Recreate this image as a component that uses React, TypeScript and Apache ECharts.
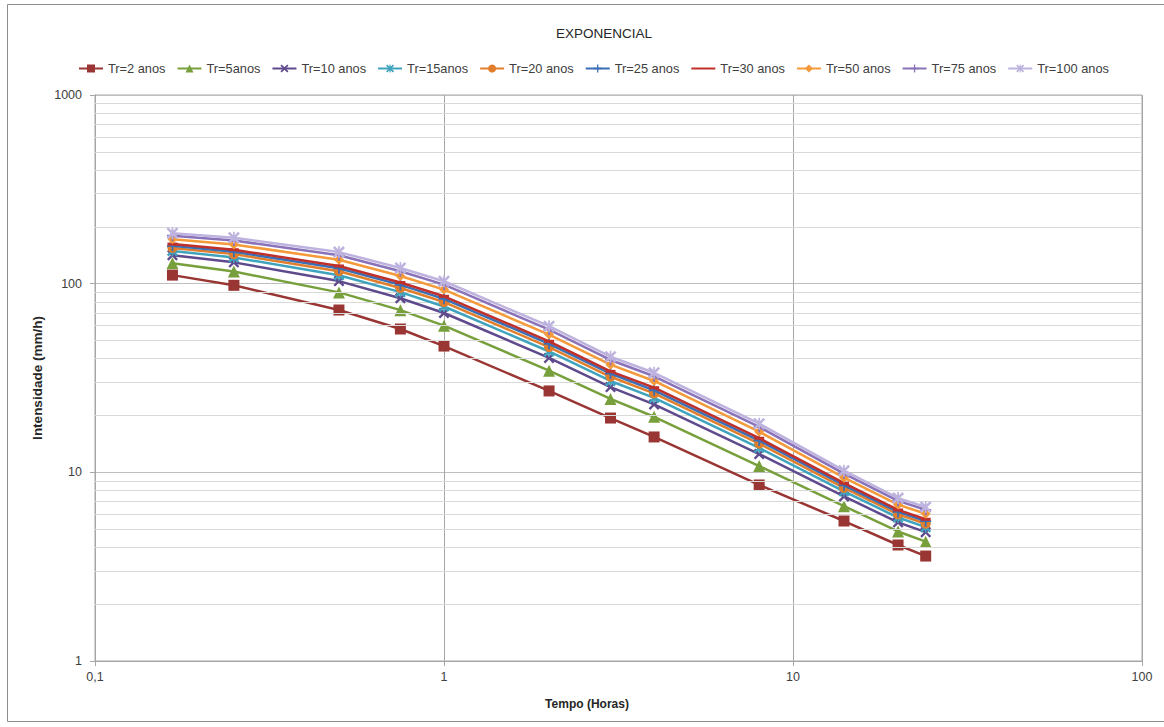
import React, { useEffect, useRef } from "react";
import * as echarts from "echarts";

const durations = [0.1667, 0.25, 0.5, 0.75, 1, 2, 3, 4, 8, 14, 20, 24];
const seriesNames = [
  "Tr=2 anos", "Tr=5anos", "Tr=10 anos", "Tr=15anos", "Tr=20 anos",
  "Tr=25 anos", "Tr=30 anos", "Tr=50 anos", "Tr=75 anos", "Tr=100 anos",
];
const tr2 = [111, 98, 72.5, 57.5, 46.7, 27.0, 19.4, 15.4, 8.57, 5.52, 4.12, 3.6];
const tr5 = [128.3, 116.0, 89.9, 72.4, 59.9, 34.6, 24.5, 19.7, 10.8, 6.62, 4.86, 4.29];
const tr10 = [141.5, 129.7, 103.2, 83.7, 69.9, 40.4, 28.3, 22.9, 12.5, 7.45, 5.43, 4.82];
const tr15 = [149.1, 137.7, 110.9, 90.2, 75.7, 43.7, 30.5, 24.8, 13.48, 7.93, 5.76, 5.12];
const tr20 = [154.6, 143.4, 116.4, 94.9, 79.9, 46.1, 32.1, 26.2, 14.18, 8.28, 5.99, 5.34];
const tr25 = [158.8, 147.7, 120.6, 98.5, 83.1, 48.0, 33.4, 27.2, 14.73, 8.54, 6.17, 5.51];
const tr30 = [162.2, 151.3, 124.1, 101.4, 85.7, 49.5, 34.3, 28.1, 15.16, 8.76, 6.32, 5.64];
const tr50 = [171.9, 161.4, 133.8, 109.8, 93.0, 53.7, 37.2, 30.5, 16.41, 9.37, 6.74, 6.03];
const tr75 = [179.5, 169.3, 141.5, 116.3, 98.8, 57.1, 39.4, 32.3, 17.39, 9.85, 7.06, 6.33];
const tr100 = [185, 175, 147, 121, 103, 59.5, 41, 33.7, 18.1, 10.2, 7.3, 6.55];
const allValues = [tr2, tr5, tr10, tr15, tr20, tr25, tr30, tr50, tr75, tr100];
const minorGridValues = [2, 3, 4, 5, 6, 7, 8, 9, 20, 30, 40, 50, 60, 70, 80, 90, 200, 300, 400, 500, 600, 700, 800, 900];

const colors = ["#993533", "#77A03C", "#5E4A8C", "#3FA3BD", "#E07E2C", "#3A6EB5", "#C0302B", "#F59A3A", "#8A72B8", "#BDB3DE"];

const X_SYM = "path://M0,1.5 L1.5,0 L5,3.5 L8.5,0 L10,1.5 L6.5,5 L10,8.5 L8.5,10 L5,6.5 L1.5,10 L0,8.5 L3.5,5 Z";
const PLUS_SYM = "path://M4.2,0 H5.8 V4.2 H10 V5.8 H5.8 V10 H4.2 V5.8 H0 V4.2 H4.2 Z";
const STAR_SYM = "path://M0,1.5 L1.5,0 L5,3.5 L8.5,0 L10,1.5 L6.5,5 L10,8.5 L8.5,10 L5,6.5 L1.5,10 L0,8.5 L3.5,5 Z M4.3,0 H5.7 V10 H4.3 Z";
const DASH_SYM = "path://M0,4 H10 V6 H0 Z";
const symbols = ["rect", "triangle", X_SYM, STAR_SYM, "circle", PLUS_SYM, DASH_SYM, "diamond", PLUS_SYM, STAR_SYM];
const symbolSizes: any[] = [11, 12, 11, 11, 10, 11, [10, 3], 10, 11, 12];

const FONT = "'Liberation Sans', Arial, sans-serif";

export default function App() {
  const ref = useRef<HTMLDivElement>(null);
  useEffect(() => {
    document.body.style.margin = "0";
    const chart = echarts.init(ref.current!, null, { renderer: "svg" });
    const series: any[] = allValues.map((vals, i) => ({
      name: seriesNames[i],
      type: "line",
      data: durations.map((d, j) => [d, vals[j]]),
      symbol: symbols[i],
      symbolSize: symbolSizes[i],
      lineStyle: { color: colors[i], width: 2.5 },
      itemStyle: { color: colors[i] },
      z: 3 + i,
    }));
    series.push({
      name: "grid",
      type: "line",
      data: [],
      silent: true,
      z: 1,
      markLine: {
        silent: true,
        symbol: "none",
        label: { show: false },
        lineStyle: { color: "#d9d9d9", width: 1, type: "solid" },
        data: minorGridValues.map((v) => ({ yAxis: v })),
      },
    });
    chart.setOption({
      animation: false,
      backgroundColor: "#ffffff",
      title: {
        text: "EXPONENCIAL",
        left: 599,
        textAlign: "center",
        top: 21,
        textStyle: { fontFamily: FONT, fontSize: 13.5, fontWeight: "normal", color: "#262626" },
      },
      legend: {
        data: seriesNames.map((n, i) => (i === 6 ? { name: n, itemStyle: { opacity: 0 } } : { name: n })),
        top: 57,
        left: 73,
        itemWidth: 24,
        itemHeight: 10,
        itemGap: 11,
        textStyle: { fontFamily: FONT, fontSize: 12.8, color: "#404040" },
      },
      grid: { left: 95, right: 22, top: 95, bottom: 66, show: true, borderColor: "#a6a6a6", borderWidth: 1 },
      xAxis: {
        type: "log",
        logBase: 10,
        min: 0.1,
        max: 100,
        axisLine: { show: true, lineStyle: { color: "#a6a6a6" } },
        axisTick: { show: true, length: 5, lineStyle: { color: "#a6a6a6" } },
        axisLabel: {
          fontFamily: FONT,
          fontSize: 12.5,
          color: "#404040",
          margin: 9,
          formatter: (v: number) => String(Number(v.toPrecision(6))).replace(".", ","),
        },
        splitLine: { show: true, lineStyle: { color: "#a6a6a6", width: 1 } },
      },
      yAxis: {
        type: "log",
        logBase: 10,
        min: 1,
        max: 1000,
        axisLine: { show: true, lineStyle: { color: "#a6a6a6" } },
        axisTick: { show: true, length: 5, lineStyle: { color: "#a6a6a6" } },
        axisLabel: {
          fontFamily: FONT,
          fontSize: 12.5,
          color: "#404040",
          margin: 13,
          formatter: (v: number) => String(Math.round(v)),
        },
        splitLine: { show: true, lineStyle: { color: "#bfbfbf", width: 1 } },
      },
      graphic: [
        {
          type: "rect",
          shape: { x: 7.5, y: 4.5, width: 1170, height: 717 },
          style: { fill: "none", stroke: "#8c8c8c", lineWidth: 1 },
          silent: true,
        },
        {
          type: "text",
          x: 587,
          y: 704,
          style: {
            text: "Tempo (Horas)",
            fontFamily: FONT,
            fontSize: 12,
            fontWeight: "bold",
            fill: "#262626",
            align: "center",
            verticalAlign: "middle",
          },
        },
        {
          type: "text",
          x: 37,
          y: 378,
          rotation: Math.PI / 2,
          style: {
            text: "Intensidade (mm/h)",
            fontFamily: FONT,
            fontSize: 13.5,
            fontWeight: "bold",
            fill: "#262626",
            align: "center",
            verticalAlign: "middle",
          },
        },
      ],
      series,
    });
    return () => chart.dispose();
  }, []);
  return <div ref={ref} style={{ width: 1164, height: 727 }} />;
}
